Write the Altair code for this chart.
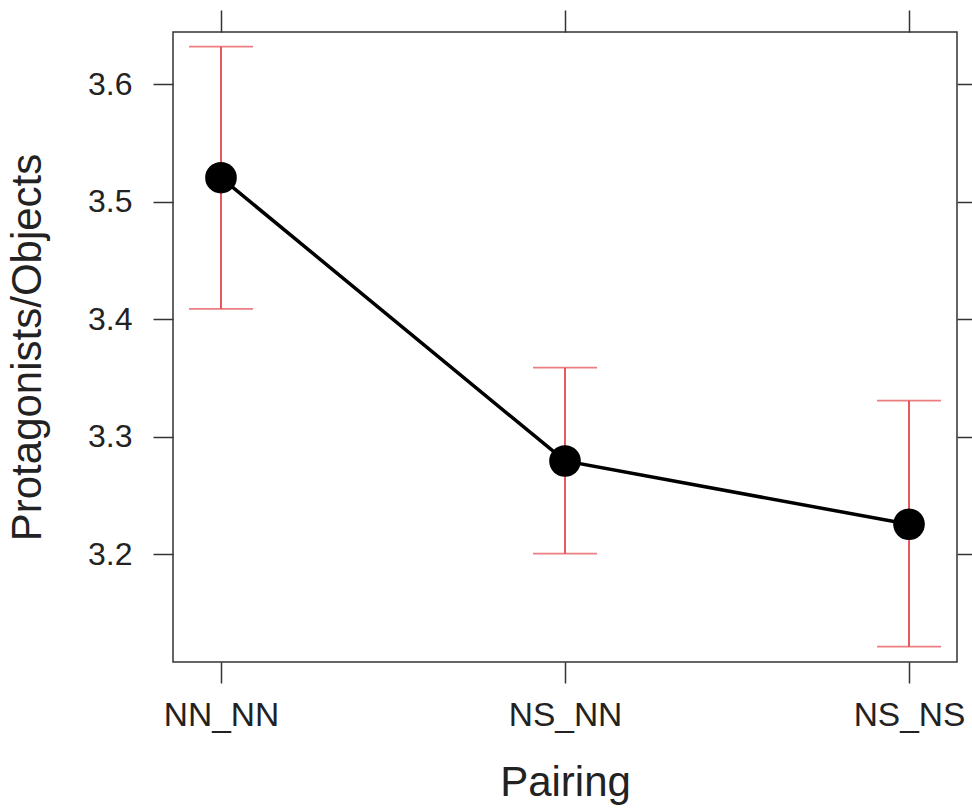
import altair as alt
import pandas as pd

pairing = ["NN_NN", "NS_NN", "NS_NS"]
fit = [3.5205, 3.2794, 3.2255]
lower = [3.4088, 3.2006, 3.1214]
upper = [3.6320, 3.3588, 3.3307]
y_ticks = [3.2, 3.3, 3.4, 3.5, 3.6]

df = pd.DataFrame({"Pairing": pairing, "fit": fit, "lower": lower, "upper": upper})

FONT = "Liberation Sans"
RED = "#e4474c"
Y_DOMAIN = [3.1083, 3.6445]

xscale = alt.Scale(type="point", padding=0.1395, domain=pairing)
yscale = alt.Scale(domain=Y_DOMAIN, nice=False, zero=False)

base = alt.Chart(df)

x_main = alt.X("Pairing:N", scale=xscale, sort=pairing,
               axis=alt.Axis(title="Pairing", orient="bottom", labelAngle=0,
                             domain=False, tickSize=21, tickColor="#333",
                             tickWidth=1.5, labelPadding=16, labelFontSize=33.5,
                             labelFont=FONT, labelColor="#222",
                             titleFont=FONT, titleFontSize=42,
                             titleFontWeight="normal", titleColor="#222",
                             titlePadding=31, grid=False))
y_main = alt.Y("lower:Q", scale=yscale,
               axis=alt.Axis(title="Protagonists/Objects", orient="left",
                             values=y_ticks, format=".1f", domain=False,
                             tickSize=20, tickColor="#333", tickWidth=1.5,
                             labelPadding=21, labelFontSize=32, labelFont=FONT,
                             labelColor="#222", titleFont=FONT,
                             titleFontSize=42, titleFontWeight="normal",
                             titleColor="#222", titlePadding=38, grid=False))

rules = base.mark_rule(color=RED, strokeWidth=1.8).encode(
    x=x_main, y=y_main, y2="upper:Q")

x_top = alt.X("Pairing:N", scale=xscale, sort=pairing,
              axis=alt.Axis(title=None, orient="top", labels=False,
                            domain=False, tickSize=22, tickColor="#333",
                            tickWidth=1.5, grid=False))
y_right = alt.Y("upper:Q", scale=yscale,
                axis=alt.Axis(title=None, orient="right", labels=False,
                              values=y_ticks, domain=False, tickSize=20,
                              tickColor="#333", tickWidth=1.5, grid=False))

caps_up = base.mark_tick(color=RED, size=64, thickness=1.8).encode(
    x=x_top, y=y_right)

x_none = alt.X("Pairing:N", scale=xscale, sort=pairing, axis=None)
caps_low = base.mark_tick(color=RED, size=64, thickness=1.8).encode(
    x=x_none, y=alt.Y("lower:Q", scale=yscale, axis=None))

line = base.mark_line(color="black", strokeWidth=3.5).encode(
    x=x_none, y=alt.Y("fit:Q", scale=yscale, axis=None))

points = base.mark_circle(color="black", opacity=1, size=1000).encode(
    x=x_none, y=alt.Y("fit:Q", scale=yscale, axis=None))

chart = alt.layer(rules, caps_up, caps_low, line, points).resolve_axis(
    x="independent", y="independent"
).properties(
    width=784, height=630,
    autosize=alt.AutoSizeParams(type="none"),
    padding={"left": 173, "top": 32, "right": 15, "bottom": 146},
    background="white",
).configure_view(stroke="#333", strokeWidth=1.5)

chart.save("out.html", embed_options={"renderer": "svg", "actions": False})
